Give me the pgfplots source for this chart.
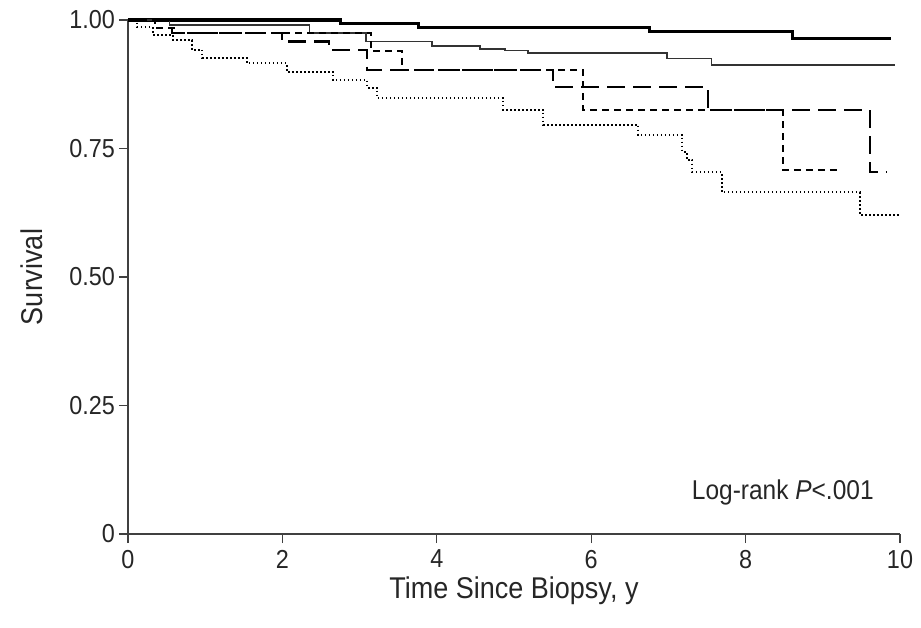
\documentclass[border=0pt]{standalone}
\usepackage{fontspec}
\setmainfont{Liberation Sans}[FakeStretch=0.9]
\usepackage{pgfplots}
\pgfplotsset{compat=1.18}
\newcommand{\lblfont}{\fontsize{13}{15}\selectfont}
\newcommand{\axlblfont}{\fontsize{15}{17}\selectfont}
\newcommand{\notefont}{\fontsize{13.6}{16}\selectfont}
\begin{document}
\begin{tikzpicture}
% page frame: reference 921x627 px at 0.5pt per px, plot origin at px (128,534)
\path[use as bounding box] (-64pt,-46.5pt) rectangle (396.5pt,267pt);
\begin{axis}[
    at={(0,0)}, anchor=south west,
    scale only axis, width=386pt, height=257pt,
    xmin=0, xmax=10, ymin=0, ymax=1,
    axis lines*=left,
    axis line style={black!75, line width=0.7pt},
    clip=false,
    xtick={0,2,4,6,8,10},
    xticklabels={0,2,4,6,8,10},
    ytick={0,0.25,0.5,0.75,1},
    yticklabels={0,0.25,0.50,0.75,1.00},
    tick align=outside,
    major tick length=4.5pt,
    tick style={black!75, line width=0.6pt},
    tick label style={font=\lblfont, text=black!85},
    yticklabel style={xshift=1.5pt},
    label style={font=\axlblfont, text=black!85},
    xlabel={Time Since Biopsy, y},
    ylabel={Survival},
    xlabel style={at={(axis description cs:0.5,-0.11)}, anchor=center, inner ysep=1pt},
    ylabel style={at={(axis description cs:-0.125,0.5)}, anchor=center},
    /pgf/number format/assume math mode=true,
    const plot,
    every axis plot/.append style={no markers},
]
% thick solid
\addplot[black, line width=1.6pt] coordinates {
    (0,1) (2.75,0.993) (3.76,0.986) (6.76,0.977) (8.61,0.964) (9.88,0.964)
};
% thin solid
\addplot[black!80, line width=0.8pt] coordinates {
    (0,1) (0.54,0.990) (2.35,0.975) (3.08,0.958) (3.94,0.949) (4.56,0.944)
    (4.88,0.941) (5.18,0.936) (6.98,0.925) (7.56,0.913) (9.94,0.913)
};
% long dashed
\addplot[black, line width=1.1pt, dash pattern=on 9pt off 4pt] coordinates {
    (0,1) (0.57,0.975) (2.0,0.958) (2.6,0.942) (3.1,0.903) (5.50,0.870)
    (7.51,0.825) (9.61,0.704) (9.83,0.704)
};
% short dashed
\addplot[black, line width=1.0pt, dash pattern=on 3.5pt off 2.5pt] coordinates {
    (0,1) (0.35,0.985) (0.6,0.975) (3.15,0.940) (3.55,0.903) (5.89,0.825)
    (8.48,0.708) (9.20,0.708)
};
% dotted
\addplot[black, line width=0.9pt, dash pattern=on 0.8pt off 1.2pt] coordinates {
    (0,1) (0.12,0.986) (0.32,0.971) (0.58,0.961) (0.83,0.942) (0.96,0.926)
    (1.54,0.916) (2.06,0.899) (2.66,0.883) (3.10,0.868) (3.23,0.848)
    (4.86,0.825) (5.38,0.796) (6.61,0.776) (7.18,0.743) (7.24,0.728)
    (7.31,0.704) (7.69,0.665) (9.48,0.621) (10.0,0.621)
};
\node[anchor=east, font=\notefont, text=black!85] at (axis cs:9.75,0.08) {Log-rank \textit{P}<.001};
\end{axis}
\end{tikzpicture}
\end{document}
